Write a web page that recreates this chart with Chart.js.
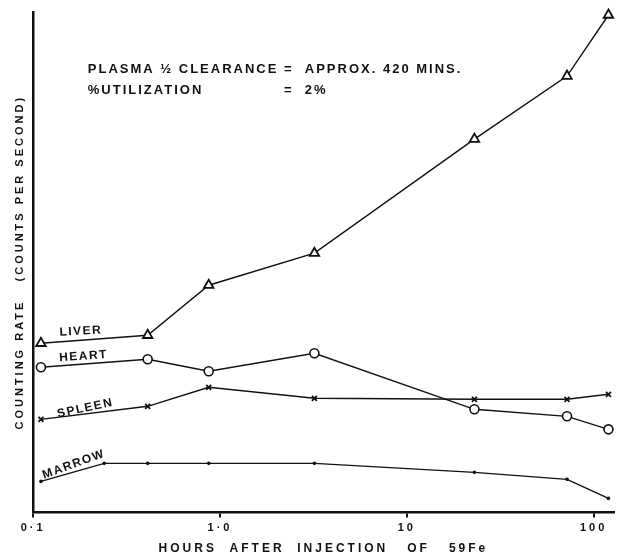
<!DOCTYPE html>
<html>
<head>
<meta charset="utf-8">
<script src="https://cdn.jsdelivr.net/npm/chart.js@4"></script>
<style>
  html, body { margin: 0; padding: 0; background: #fff; }
  #wrap { width: 621px; height: 560px; }
</style>
</head>
<body>
<div id="wrap"><canvas id="myChart" width="621" height="560"></canvas></div>
<script>
// hours after injection (x, log scale)
const hours = [0.11, 0.41, 0.87, 3.2, 23, 72, 120];
const marrowHours = [0.11, 0.24, 0.41, 0.87, 3.2, 23, 72, 120];

// counting rate, arbitrary units
const liver = [33.8, 35.4, 45.4, 51.8, 74.6, 87.2, 99.4];
const heart = [29, 30.6, 28.2, 31.8, 20.6, 19.2, 16.6];
const spleen = [18.6, 21.2, 25, 22.8, 22.6, 22.6, 23.6];
const marrow = [6.2, 9.8, 9.8, 9.8, 9.8, 8, 6.6, 2.8];

const xTicks = [0.1, 1, 10, 100];
const xTickLabels = ['0·1', '1·0', '10', '100'];

// hand-written series names next to the first points
const seriesNames = ['LIVER', 'HEART', 'SPLEEN', 'MARROW'];
const nameHours = [0.18, 0.186, 0.19, 0.165];
const nameValues = [36.2, 31.2, 20.8, 9.6];

// note in the top left
const noteLeft = ['PLASMA ½ CLEARANCE', '%UTILIZATION'];
const noteRight = ['=  APPROX. 420 MINS.', '=  2%'];
const noteValues = [88.6, 84.4];

const ink = '#111';
const font = "'Liberation Sans', Arial, sans-serif";

function toPoints(xs, ys) {
  return xs.map((x, i) => ({ x: x, y: ys[i] }));
}

const nameAngles = [-3, -4, -12, -20];

const handLabels = {
  id: 'handLabels',
  afterDatasetsDraw(chart) {
    const ctx = chart.ctx;
    const xs = chart.scales.x;
    const ys = chart.scales.y;
    ctx.save();
    ctx.fillStyle = ink;
    ctx.font = 'bold 12px ' + font;
    ctx.letterSpacing = '1.5px';
    ctx.textAlign = 'center';
    ctx.textBaseline = 'middle';
    seriesNames.forEach((name, i) => {
      ctx.save();
      ctx.translate(xs.getPixelForValue(nameHours[i]), ys.getPixelForValue(nameValues[i]));
      ctx.rotate(nameAngles[i] * Math.PI / 180);
      ctx.fillText(name, 0, 0);
      ctx.restore();
    });

    ctx.font = 'bold 13px ' + font;
    ctx.letterSpacing = '2px';
    ctx.textAlign = 'left';
    noteLeft.forEach((txt, i) => {
      const y = ys.getPixelForValue(noteValues[i]);
      ctx.fillText(txt, xs.getPixelForValue(0.196), y);
      ctx.fillText(noteRight[i], xs.getPixelForValue(2.2), y);
    });
    ctx.restore();
  }
};

const spacing = {
  id: 'spacing',
  beforeDraw(chart) {
    chart.ctx.letterSpacing = '3px';
  }
};

const ctx = document.getElementById('myChart').getContext('2d');

const chart = new Chart(ctx, {
  type: 'line',
  data: {
    datasets: [{
      label: 'Liver',
      data: toPoints(hours, liver),
      borderColor: ink,
      borderWidth: 1.4,
      pointStyle: 'triangle',
      pointRadius: 5.5,
      pointBorderWidth: 1.8,
      pointBorderColor: ink,
      pointBackgroundColor: '#fff'
    }, {
      label: 'Heart',
      data: toPoints(hours, heart),
      borderColor: ink,
      borderWidth: 1.4,
      pointStyle: 'circle',
      pointRadius: 4.5,
      pointBorderWidth: 1.6,
      pointBorderColor: ink,
      pointBackgroundColor: '#fff'
    }, {
      label: 'Spleen',
      data: toPoints(hours, spleen),
      borderColor: ink,
      borderWidth: 1.4,
      pointStyle: 'crossRot',
      pointRadius: 3.5,
      pointBorderWidth: 1.8,
      pointBorderColor: ink,
      pointBackgroundColor: '#fff'
    }, {
      label: 'Marrow',
      data: toPoints(marrowHours, marrow),
      borderColor: ink,
      borderWidth: 1.4,
      pointStyle: 'circle',
      pointRadius: 1.8,
      pointBorderWidth: 0,
      pointBackgroundColor: ink
    }]
  },
  options: {
    responsive: false,
    animation: false,
    clip: false,
    layout: { padding: { left: 13, right: 4, top: 12, bottom: 4 } },
    plugins: {
      legend: { display: false },
      tooltip: { enabled: false }
    },
    elements: { line: { tension: 0 } },
    scales: {
      x: {
        type: 'logarithmic',
        min: 0.1,
        max: 128,
        afterBuildTicks(axis) {
          axis.ticks = xTicks.map(v => ({ value: v }));
        },
        ticks: {
          color: ink,
          font: { family: font, size: 11, weight: 'bold' },
          padding: 4,
          maxRotation: 0,
          autoSkip: false,
          callback(value) {
            return xTickLabels[xTicks.indexOf(value)];
          }
        },
        grid: { display: true, drawOnChartArea: false, drawTicks: true, tickLength: 5, color: ink, lineWidth: 2 },
        border: { display: true, color: ink, width: 2.5 },
        title: {
          display: true,
          text: 'HOURS  AFTER  INJECTION   OF   59Fe',
          color: ink,
          font: { family: font, size: 12, weight: 'bold' },
          padding: { top: 3, bottom: 0 }
        }
      },
      y: {
        min: 0,
        max: 100,
        ticks: { display: false },
        grid: { display: false, drawTicks: false },
        border: { display: true, color: ink, width: 2.5 },
        title: {
          display: true,
          text: 'COUNTING RATE   (COUNTS PER SECOND)',
          color: ink,
          font: { family: font, size: 11, weight: 'bold' },
          padding: { top: 0, bottom: 7 }
        }
      }
    }
  },
  plugins: [spacing, handLabels]
});
</script>
</body>
</html>
